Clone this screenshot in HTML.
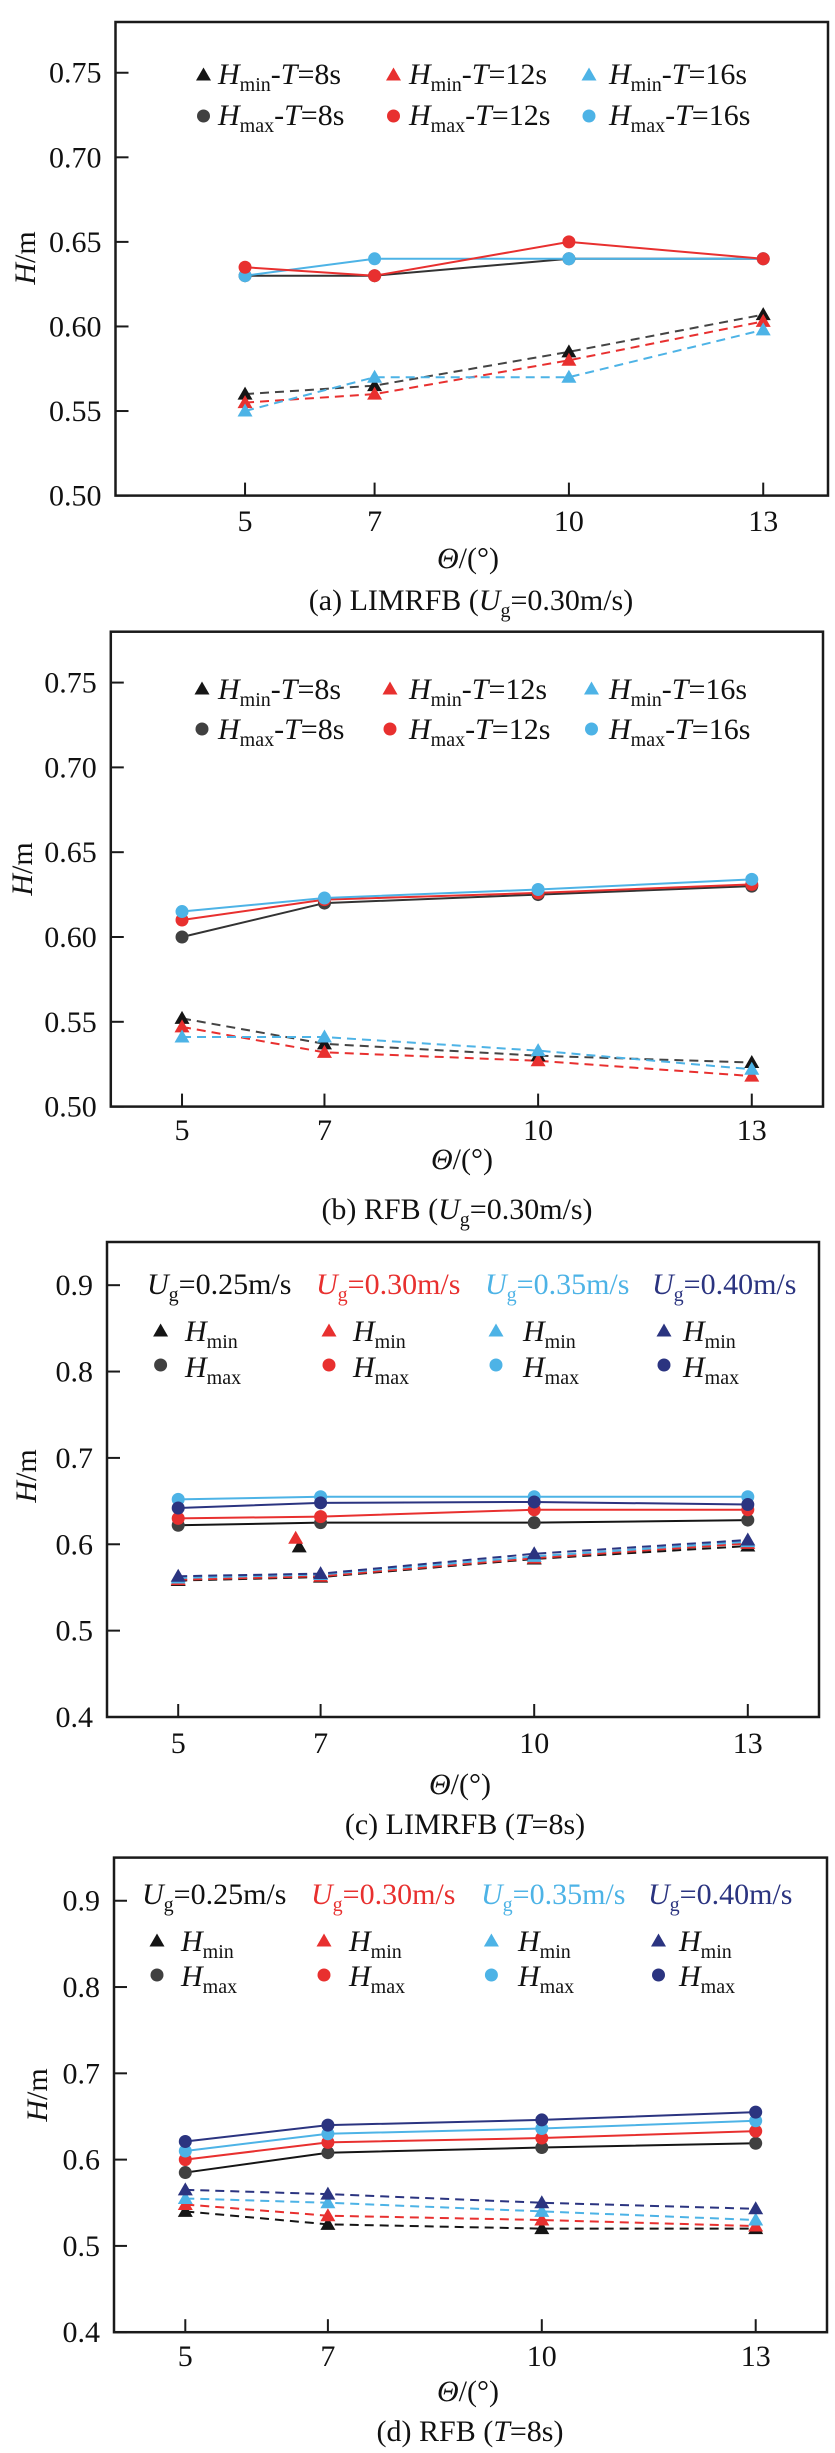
<!DOCTYPE html>
<html><head><meta charset="utf-8">
<style>
html,body{margin:0;padding:0;background:#fff;}
svg{display:block;font-family:"Liberation Serif",serif;}
</style></head>
<body>
<svg id="fig" width="835" height="2453" viewBox="0 0 835 2453" xmlns="http://www.w3.org/2000/svg">
<g id="layer-a"></g>
<g id="layer-b"></g>
<g id="layer-c"></g>
<g id="layer-d"></g>

<!-- Panel a static text -->
<g font-size="30" fill="#111">
<text x="28" y="258" transform="rotate(-90 28 258)" text-anchor="middle" dominant-baseline="middle"><tspan font-style="italic">H</tspan>/m</text>
<text x="468" y="568" text-anchor="middle"><tspan font-style="italic">Θ</tspan>/(°)</text>
<text x="471" y="610" text-anchor="middle">(a) LIMRFB (<tspan font-style="italic">U</tspan><tspan font-size="20" dy="7">g</tspan><tspan dy="-7">=0.30m/s)</tspan></text>
<g>
<text x="218" y="84"><tspan font-style="italic">H</tspan><tspan font-size="20" dy="7">min</tspan><tspan dy="-7">-</tspan><tspan font-style="italic">T</tspan>=8s</text>
<text x="409" y="84"><tspan font-style="italic">H</tspan><tspan font-size="20" dy="7">min</tspan><tspan dy="-7">-</tspan><tspan font-style="italic">T</tspan>=12s</text>
<text x="609" y="84"><tspan font-style="italic">H</tspan><tspan font-size="20" dy="7">min</tspan><tspan dy="-7">-</tspan><tspan font-style="italic">T</tspan>=16s</text>
<text x="218" y="125"><tspan font-style="italic">H</tspan><tspan font-size="20" dy="7">max</tspan><tspan dy="-7">-</tspan><tspan font-style="italic">T</tspan>=8s</text>
<text x="409" y="125"><tspan font-style="italic">H</tspan><tspan font-size="20" dy="7">max</tspan><tspan dy="-7">-</tspan><tspan font-style="italic">T</tspan>=12s</text>
<text x="609" y="125"><tspan font-style="italic">H</tspan><tspan font-size="20" dy="7">max</tspan><tspan dy="-7">-</tspan><tspan font-style="italic">T</tspan>=16s</text>
</g>
</g>

<!-- Panel b static text -->
<g font-size="30" fill="#111">
<text x="25" y="869" transform="rotate(-90 25 869)" text-anchor="middle" dominant-baseline="middle"><tspan font-style="italic">H</tspan>/m</text>
<text x="462" y="1169" text-anchor="middle"><tspan font-style="italic">Θ</tspan>/(°)</text>
<text x="457" y="1219" text-anchor="middle">(b) RFB (<tspan font-style="italic">U</tspan><tspan font-size="20" dy="7">g</tspan><tspan dy="-7">=0.30m/s)</tspan></text>
<g>
<text x="218" y="699"><tspan font-style="italic">H</tspan><tspan font-size="20" dy="7">min</tspan><tspan dy="-7">-</tspan><tspan font-style="italic">T</tspan>=8s</text>
<text x="409" y="699"><tspan font-style="italic">H</tspan><tspan font-size="20" dy="7">min</tspan><tspan dy="-7">-</tspan><tspan font-style="italic">T</tspan>=12s</text>
<text x="609" y="699"><tspan font-style="italic">H</tspan><tspan font-size="20" dy="7">min</tspan><tspan dy="-7">-</tspan><tspan font-style="italic">T</tspan>=16s</text>
<text x="218" y="739"><tspan font-style="italic">H</tspan><tspan font-size="20" dy="7">max</tspan><tspan dy="-7">-</tspan><tspan font-style="italic">T</tspan>=8s</text>
<text x="409" y="739"><tspan font-style="italic">H</tspan><tspan font-size="20" dy="7">max</tspan><tspan dy="-7">-</tspan><tspan font-style="italic">T</tspan>=12s</text>
<text x="609" y="739"><tspan font-style="italic">H</tspan><tspan font-size="20" dy="7">max</tspan><tspan dy="-7">-</tspan><tspan font-style="italic">T</tspan>=16s</text>
</g>
</g>

<!-- Panel c static text -->
<g font-size="30" fill="#111">
<text x="29" y="1476" transform="rotate(-90 29 1476)" text-anchor="middle" dominant-baseline="middle"><tspan font-style="italic">H</tspan>/m</text>
<text x="460" y="1794" text-anchor="middle"><tspan font-style="italic">Θ</tspan>/(°)</text>
<text x="465" y="1834" text-anchor="middle">(c) LIMRFB (<tspan font-style="italic">T</tspan>=8s)</text>
<g>
<text x="147" y="1294" fill="#111"><tspan font-style="italic">U</tspan><tspan font-size="20" dy="7">g</tspan><tspan dy="-7">=0.25m/s</tspan></text>
<text x="316" y="1294" fill="#e8302f"><tspan font-style="italic">U</tspan><tspan font-size="20" dy="7">g</tspan><tspan dy="-7">=0.30m/s</tspan></text>
<text x="485" y="1294" fill="#4db3e6"><tspan font-style="italic">U</tspan><tspan font-size="20" dy="7">g</tspan><tspan dy="-7">=0.35m/s</tspan></text>
<text x="652" y="1294" fill="#2b3480"><tspan font-style="italic">U</tspan><tspan font-size="20" dy="7">g</tspan><tspan dy="-7">=0.40m/s</tspan></text>
<text x="185" y="1341"><tspan font-style="italic">H</tspan><tspan font-size="20" dy="7">min</tspan></text>
<text x="353" y="1341"><tspan font-style="italic">H</tspan><tspan font-size="20" dy="7">min</tspan></text>
<text x="523" y="1341"><tspan font-style="italic">H</tspan><tspan font-size="20" dy="7">min</tspan></text>
<text x="683" y="1341"><tspan font-style="italic">H</tspan><tspan font-size="20" dy="7">min</tspan></text>
<text x="185" y="1377"><tspan font-style="italic">H</tspan><tspan font-size="20" dy="7">max</tspan></text>
<text x="353" y="1377"><tspan font-style="italic">H</tspan><tspan font-size="20" dy="7">max</tspan></text>
<text x="523" y="1377"><tspan font-style="italic">H</tspan><tspan font-size="20" dy="7">max</tspan></text>
<text x="683" y="1377"><tspan font-style="italic">H</tspan><tspan font-size="20" dy="7">max</tspan></text>
</g>
</g>

<!-- Panel d static text -->
<g font-size="30" fill="#111">
<text x="40" y="2095" transform="rotate(-90 40 2095)" text-anchor="middle" dominant-baseline="middle"><tspan font-style="italic">H</tspan>/m</text>
<text x="468" y="2401" text-anchor="middle"><tspan font-style="italic">Θ</tspan>/(°)</text>
<text x="470" y="2441" text-anchor="middle">(d) RFB (<tspan font-style="italic">T</tspan>=8s)</text>
<g>
<text x="142" y="1904" fill="#111"><tspan font-style="italic">U</tspan><tspan font-size="20" dy="7">g</tspan><tspan dy="-7">=0.25m/s</tspan></text>
<text x="311" y="1904" fill="#e8302f"><tspan font-style="italic">U</tspan><tspan font-size="20" dy="7">g</tspan><tspan dy="-7">=0.30m/s</tspan></text>
<text x="481" y="1904" fill="#4db3e6"><tspan font-style="italic">U</tspan><tspan font-size="20" dy="7">g</tspan><tspan dy="-7">=0.35m/s</tspan></text>
<text x="648" y="1904" fill="#2b3480"><tspan font-style="italic">U</tspan><tspan font-size="20" dy="7">g</tspan><tspan dy="-7">=0.40m/s</tspan></text>
<text x="181" y="1951"><tspan font-style="italic">H</tspan><tspan font-size="20" dy="7">min</tspan></text>
<text x="349" y="1951"><tspan font-style="italic">H</tspan><tspan font-size="20" dy="7">min</tspan></text>
<text x="518" y="1951"><tspan font-style="italic">H</tspan><tspan font-size="20" dy="7">min</tspan></text>
<text x="679" y="1951"><tspan font-style="italic">H</tspan><tspan font-size="20" dy="7">min</tspan></text>
<text x="181" y="1986"><tspan font-style="italic">H</tspan><tspan font-size="20" dy="7">max</tspan></text>
<text x="349" y="1986"><tspan font-style="italic">H</tspan><tspan font-size="20" dy="7">max</tspan></text>
<text x="518" y="1986"><tspan font-style="italic">H</tspan><tspan font-size="20" dy="7">max</tspan></text>
<text x="679" y="1986"><tspan font-style="italic">H</tspan><tspan font-size="20" dy="7">max</tspan></text>
</g>
</g>
</svg>

<script>
// ---------- data ----------
const angles = [5, 7, 10, 13];
const xTickLabels = ["5", "7", "10", "13"];
const yTicksAB = [0.50, 0.55, 0.60, 0.65, 0.70, 0.75];
const yTickLabelsAB = ["0.50", "0.55", "0.60", "0.65", "0.70", "0.75"];
const yTicksCD = [0.4, 0.5, 0.6, 0.7, 0.8, 0.9];
const yTickLabelsCD = ["0.4", "0.5", "0.6", "0.7", "0.8", "0.9"];

// panel a: LIMRFB Ug=0.30
const aMaxT8 = [0.630, 0.630, 0.640, 0.640];
const aMaxT12 = [0.635, 0.630, 0.650, 0.640];
const aMaxT16 = [0.630, 0.640, 0.640, 0.640];
const aMinT8 = [0.560, 0.565, 0.585, 0.607];
const aMinT12 = [0.555, 0.560, 0.580, 0.603];
const aMinT16 = [0.550, 0.570, 0.570, 0.598];

// panel b: RFB Ug=0.30
const bMaxT8 = [0.600, 0.620, 0.625, 0.630];
const bMaxT12 = [0.610, 0.622, 0.626, 0.631];
const bMaxT16 = [0.615, 0.623, 0.628, 0.634];
const bMinT8 = [0.552, 0.537, 0.530, 0.526];
const bMinT12 = [0.547, 0.532, 0.527, 0.518];
const bMinT16 = [0.541, 0.541, 0.533, 0.522];

// panel c: LIMRFB T=8s
const cMax025 = [0.622, 0.625, 0.625, 0.628];
const cMax030 = [0.630, 0.632, 0.640, 0.640];
const cMax035 = [0.652, 0.655, 0.655, 0.655];
const cMax040 = [0.642, 0.648, 0.649, 0.646];
const cMin025 = [0.558, 0.562, 0.583, 0.598];
const cMin030 = [0.559, 0.563, 0.584, 0.601];
const cMin035 = [0.561, 0.565, 0.586, 0.603];
const cMin040 = [0.563, 0.566, 0.589, 0.605];
const cOutlierX = [6.7, 6.65];
const cOutlierY = [0.597, 0.607];

// panel d: RFB T=8s
const dMax025 = [0.585, 0.608, 0.614, 0.619];
const dMax030 = [0.600, 0.620, 0.625, 0.633];
const dMax035 = [0.610, 0.630, 0.636, 0.645];
const dMax040 = [0.621, 0.640, 0.646, 0.655];
const dMin025 = [0.540, 0.525, 0.520, 0.520];
const dMin030 = [0.548, 0.535, 0.530, 0.523];
const dMin035 = [0.555, 0.550, 0.540, 0.530];
const dMin040 = [0.565, 0.560, 0.550, 0.543];

// ---------- drawing ----------
const NS = "http://www.w3.org/2000/svg";
const K = "#151515", KG = "#404040", RED = "#e8302f", LB = "#4db3e6", NV = "#2b3480";

function mk(tag, attrs, parent) {
  const e = document.createElementNS(NS, tag);
  for (const k in attrs) e.setAttribute(k, attrs[k]);
  parent.appendChild(e);
  return e;
}
function triPath(x, y) {
  return "M" + x + "," + (y - 7.5) + " L" + (x + 7.5) + "," + (y + 5.5) + " L" + (x - 7.5) + "," + (y + 5.5) + " Z";
}

function drawPanel(p) {
  const g = document.getElementById(p.layer);
  const sx = v => p.L + (v - p.xmin) / (p.xmax - p.xmin) * (p.R - p.L);
  const sy = v => p.B - (v - p.ymin) / (p.ymax - p.ymin) * (p.B - p.T);
  const frame = mk("rect", {x: p.L, y: p.T, width: p.R - p.L, height: p.B - p.T, fill: "none", stroke: "#1a1a1a", "stroke-width": 2.5}, g);
  
  
  p.yTicks.forEach((v, i) => {
    const t = mk("line", {x1: p.L, x2: p.L + 13, y1: sy(v), y2: sy(v), stroke: "#1a1a1a", "stroke-width": 2}, g);
    
    
    const lb = mk("text", {x: p.L - 14, y: sy(v) + 10, "text-anchor": "end", "font-size": 30, fill: "#111"}, g);
    lb.textContent = p.yLabels[i];
    
    
  });
  angles.forEach((v, i) => {
    const t = mk("line", {x1: sx(v), x2: sx(v), y1: p.B, y2: p.B - 13, stroke: "#1a1a1a", "stroke-width": 2}, g);
    
    
    const lb = mk("text", {x: sx(v), y: p.xLabY, "text-anchor": "middle", "font-size": 30, fill: "#111"}, g);
    lb.textContent = xTickLabels[i];
    
    
  });
  p.series.forEach(s => {
    const pts = s.vals.map((v, i) => sx(angles[i]) + "," + sy(v)).join(" ");
    const ln = mk("polyline", {points: pts, fill: "none", stroke: s.lc || s.c, "stroke-width": 2, "stroke-dasharray": s.tri ? "9,6" : "none"}, g);
    
    
  });
  p.series.forEach(s => {
    s.vals.forEach((v, i) => {
      let m;
      if (s.tri) m = mk("path", {d: triPath(sx(angles[i]), sy(v)), fill: s.c}, g);
      else m = mk("circle", {cx: sx(angles[i]), cy: sy(v), r: 6.5, fill: s.c}, g);
      
      
    });
  });
  if (p.outliers) {
    p.outliers.xs.forEach((xv, i) => {
      const m = mk("path", {d: triPath(sx(xv), sy(p.outliers.ys[i])), fill: p.outliers.cols[i]}, g);
      
      
    });
  }
  p.legend.forEach(l => {
    let m;
    if (l.tri) m = mk("path", {d: triPath(l.x, l.y), fill: l.c}, g);
    else m = mk("circle", {cx: l.x, cy: l.y, r: 6.5, fill: l.c}, g);
    
    
  });
}

function legendAB(y1, y2, xs) {
  const cols = [K, RED, LB], colsC = [KG, RED, LB], out = [];
  xs.forEach((x, i) => { out.push({x: x, y: y1, c: cols[i], tri: true}); out.push({x: x, y: y2, c: colsC[i], tri: false}); });
  return out;
}
function legendCD(y1, y2, xs) {
  const cols = [K, RED, LB, NV], colsC = [KG, RED, LB, NV], out = [];
  xs.forEach((x, i) => { out.push({x: x, y: y1, c: cols[i], tri: true}); out.push({x: x, y: y2, c: colsC[i], tri: false}); });
  return out;
}

drawPanel({layer: "layer-a", L: 115.5, R: 828, T: 22, B: 495.6, xmin: 3, xmax: 14, ymin: 0.5, ymax: 0.78,
  yTicks: yTicksAB, yLabels: yTickLabelsAB, xLabY: 531,
  series: [
    {name: "a-hmax-t8", vals: aMaxT8, c: KG, lc: "#333"},
    {name: "a-hmax-t16", vals: aMaxT16, c: LB},
    {name: "a-hmax-t12", vals: aMaxT12, c: RED},
    {name: "a-hmin-t8", vals: aMinT8, c: K, lc: "#444", tri: true},
    {name: "a-hmin-t12", vals: aMinT12, c: RED, tri: true},
    {name: "a-hmin-t16", vals: aMinT16, c: LB, tri: true}],
  legend: legendAB(75, 116, [203.5, 393.5, 589])});

drawPanel({layer: "layer-b", L: 110.8, R: 823, T: 631.7, B: 1106.6, xmin: 4, xmax: 14, ymin: 0.5, ymax: 0.78,
  yTicks: yTicksAB, yLabels: yTickLabelsAB, xLabY: 1140,
  series: [
    {name: "b-hmax-t8", vals: bMaxT8, c: KG, lc: "#333"},
    {name: "b-hmax-t12", vals: bMaxT12, c: RED},
    {name: "b-hmax-t16", vals: bMaxT16, c: LB},
    {name: "b-hmin-t8", vals: bMinT8, c: K, lc: "#444", tri: true},
    {name: "b-hmin-t12", vals: bMinT12, c: RED, tri: true},
    {name: "b-hmin-t16", vals: bMinT16, c: LB, tri: true}],
  legend: legendAB(689, 729, [202, 390, 591.5])});

drawPanel({layer: "layer-c", L: 107, R: 819, T: 1242, B: 1717, xmin: 4, xmax: 14, ymin: 0.4, ymax: 0.95,
  yTicks: yTicksCD, yLabels: yTickLabelsCD, xLabY: 1753,
  series: [
    {name: "c-hmax-025", vals: cMax025, c: KG, lc: K},
    {name: "c-hmax-030", vals: cMax030, c: RED},
    {name: "c-hmax-035", vals: cMax035, c: LB},
    {name: "c-hmax-040", vals: cMax040, c: NV},
    {name: "c-hmin-025", vals: cMin025, c: K, tri: true},
    {name: "c-hmin-030", vals: cMin030, c: RED, tri: true},
    {name: "c-hmin-035", vals: cMin035, c: LB, tri: true},
    {name: "c-hmin-040", vals: cMin040, c: NV, tri: true}],
  outliers: {xs: cOutlierX, ys: cOutlierY, cols: [K, RED]},
  legend: legendCD(1331, 1365, [160.6, 329, 496, 664])});

drawPanel({layer: "layer-d", L: 114, R: 827, T: 1857.6, B: 2332.2, xmin: 4, xmax: 14, ymin: 0.4, ymax: 0.95,
  yTicks: yTicksCD, yLabels: yTickLabelsCD, xLabY: 2366,
  series: [
    {name: "d-hmax-025", vals: dMax025, c: KG, lc: K},
    {name: "d-hmax-030", vals: dMax030, c: RED},
    {name: "d-hmax-035", vals: dMax035, c: LB},
    {name: "d-hmax-040", vals: dMax040, c: NV},
    {name: "d-hmin-025", vals: dMin025, c: K, tri: true},
    {name: "d-hmin-030", vals: dMin030, c: RED, tri: true},
    {name: "d-hmin-035", vals: dMin035, c: LB, tri: true},
    {name: "d-hmin-040", vals: dMin040, c: NV, tri: true}],
  legend: legendCD(1941, 1975, [157, 324, 491.4, 658.5])});
</script>
</body></html>
